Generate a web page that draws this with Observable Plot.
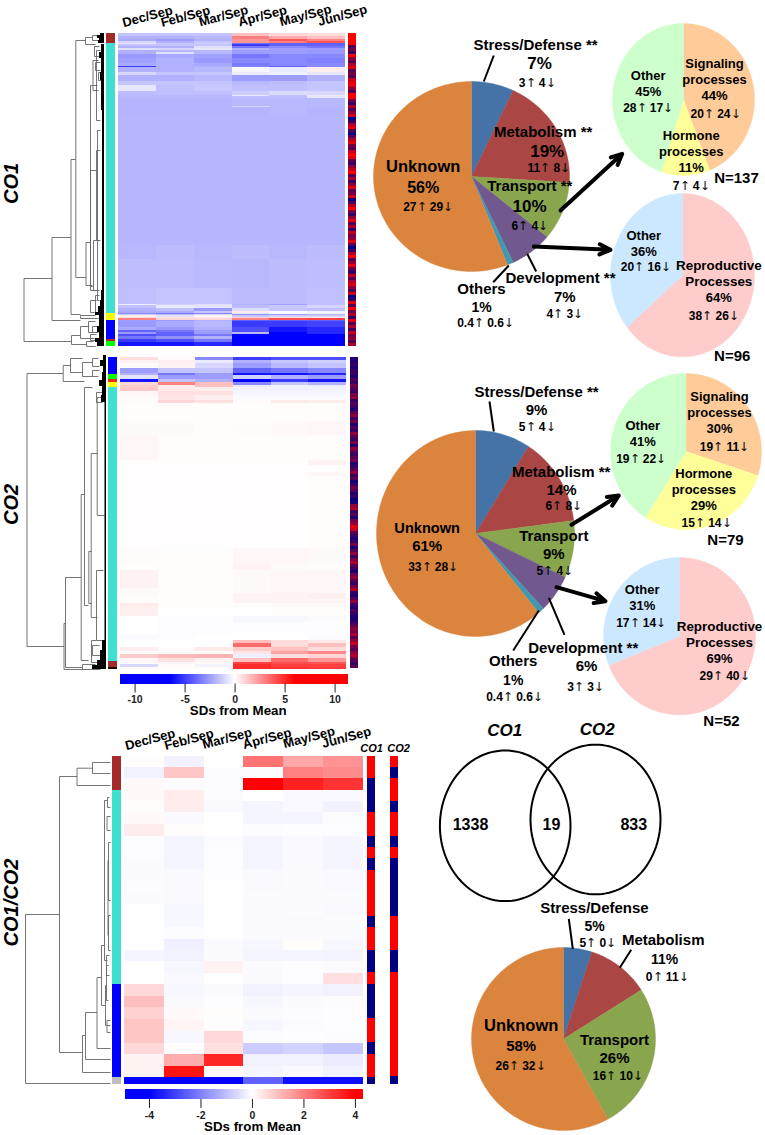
<!DOCTYPE html>
<html><head><meta charset="utf-8">
<script src="https://cdn.jsdelivr.net/npm/d3@7"></script>
<script src="https://cdn.jsdelivr.net/npm/@observablehq/plot@0.6"></script>
<style>
@font-face{font-family:Arr;font-weight:bold;src:local("DejaVu Sans"),local("DejaVuSans");unicode-range:U+2191,U+2193}
html,body{margin:0;padding:0;background:#fff}
#stage{position:relative;width:765px;height:1135px;overflow:hidden;font-family:Arr,"Liberation Sans",Arial,sans-serif}
#stage svg{position:absolute;overflow:visible;background:transparent}
#stage svg.soft{filter:blur(.55px)}
</style></head><body><div id="stage"></div>
<script>
// ---------- values ----------
const months = ["Dec/Sep","Feb/Sep","Mar/Sep","Apr/Sep","May/Sep","Jun/Sep"];

// row size, then SDs from mean for the six months
const co1Rows = [
[3,-1.5,-1.5,-1.5,1.5,1,.8],[3,-2,-2,-1.8,3,2,1.5],[2,-2.2,-2.5,-2,2.5,4,3],[2,-1,-2,-1.5,2.5,3,4],
[2,-.8,-1.5,-1.2,-3.5,-4,-4],[2,-1.5,-1.5,-1.5,-5,-4,-4],[2,-2,-2,-.8,-3.5,-3,-3.5],[2,-.8,-1,-.6,-2,-2.5,-2.5],
[2,-2,-1.8,-1.8,-2.5,-2.5,-2.6],[2,-2,-.8,-1.8,-2.5,-2.5,-2.6],[4,-2.6,-2.2,-2.4,-3.5,-3,-3],[5,-2.4,-2,-2.6,-3,-3,-3.2],[4,-2.2,-2,-2.2,-3.4,-3,-3],
[1,-5,-2,-2,-3,-4,-3],[5,-2,-2,-1.8,-.2,-.5,.4],[3,-1,-1.5,-1.5,-.5,-.4,-.6],[6,-2,-2,-1.8,-2.5,-2.5,-2],
[5,-1.5,-1.5,-1.5,-1.8,-1.7,-1.5],[6,-.6,-1.6,-1.4,-1.6,-1.6,-1.5],[4,-1.7,-1.6,-1.6,-1.3,-.9,-1],[1.5,-1.8,-1.8,-1.8,-.6,-1.6,-.5],[1.5,-1.8,-1.8,-1.8,-1.7,-1.7,-.7],
[9,-1.9,-1.9,-1.9,-1.8,-1.8,-1.8],[1,-1.9,-1.9,-1.9,-1,-1.8,-1.8],[9,-1.9,-1.9,-1.9,-1.9,-1.8,-1.9],[135,-1.85,-1.85,-1.85,-1.85,-1.85,-1.85],
[15,-1.8,-1.7,-1.8,-1.7,-1.8,-1.7],[30,-1.65,-1.65,-1.75,-1.8,-1.7,-1.65],[17,-1.6,-1.5,-1.5,-1.7,-1.7,-1.6],
[1.5,-.4,-1.2,-.8,-2,-2.4,-1.6],[2.5,-1.6,-.5,-.7,-1.7,-1.4,-1.1],[3,-2,-1.6,-2.6,-.9,-1.5,-1.6],[2,-2.2,-2.2,-1.5,.5,-.1,-.4],
[1,-3,-3.5,-3,-.6,-.2,-.3],[2,-1.3,-1.6,-1,-2.8,-2.5,-2],[2,.4,-.8,.3,-1.5,-1.2,-1.2],[1,.8,.6,.4,1,.7,.5],
[2,3,1,1,3,4.2,4.5],[1,-2.5,-2.5,-2,-4,-4,-4],[6,-2.6,-2.2,-1.8,-5,-5,-4.8],[3,-2.2,-2.6,-2,-4.5,-6,-5.5],[2,-4,-3.5,-2.5,-4.5,-6,-5.5],
[2,-2.6,-4,-2.5,-1.8,-6.5,-5.5],[3,-4.5,-4,-3.5,-6.5,-7,-6.5],[3,-3.5,-2.8,-2,-7,-7,-7],[3,-5,-4.5,-3.5,-7,-7,-7],[4,-6,-6,-5.5,-7,-7,-7]];

const co2Rows = [
[3,.8,.1,-3,-5,-4.5,-4.5],[3,.3,.4,-.5,-2,-1.5,-1.2],[5,.1,.3,-1,-2.5,-1.8,-1.5],[5,-2.5,-1.5,-1.5,-4,-3.5,-3],[2,-2,-3.5,-2.5,-6,-6,-5.5],
[4,-.7,-2.5,-2.5,-1.2,-2,-2.5],[3,-6,-1.5,-2,-7,-5,-6],[3,1,3,1.5,-3,-1.5,-2],[2,1.2,.4,1.5,-.5,-.3,-.4],[4,1.3,.5,.4,-.3,-.4,-.3],
[4,.2,.7,.7,-.2,-.2,-.2],[5,.1,.6,.4,-.1,-.1,-.1],[3,.1,1,.7,.1,.5,.4],[20,.06,.06,.06,.06,.06,.06],[13,.12,.12,.06,.1,.15,.2],[25,.18,.06,.06,.06,.06,.06],
[5,.06,.06,.06,.06,.06,.3],[7,.04,.04,.04,.04,.04,.04],[4,.04,.04,.04,.04,.04,.2],[73,.05,.05,.05,.05,.05,.07],[15,.1,.07,.07,.2,.2,.12],[7,.07,.07,.07,.3,.12,.1],
[18,.3,.06,.06,.12,.18,.18],[5,.12,.06,.06,.12,.18,.18],[5,.12,.06,.06,.25,.25,.35],[5,.06,.06,.06,.25,.3,.25],[4,.45,.06,.06,.06,.12,.12],[9,.35,0,0,.03,.06,.06],
[7,0,-.06,-.06,-.2,-.2,-.12],[12,0,-.06,-.06,-.06,-.06,-.06],[6,-.12,-.06,0,-.03,-.03,-.12],
[3,0,0,0,1.5,.8,.5],[4,0,0,0,3.5,.8,1.5],[4,.4,.1,.5,1.2,1.5,.8],[3,.1,.1,.1,.6,2.2,2.8],[4,1.2,1.6,1.8,-.4,.8,1],[4,.2,.7,.3,1.5,3.5,2.5],[2,.1,.2,.1,4.5,4.2,4],[3,-1,.1,-.3,5,4.5,4.5],[2,.1,.1,.1,5,4.8,4.6]];

const bothRows = [
[34,.05,-.2,0,2.2,1.4,1.7],[33,-.2,.9,-.05,-.05,2,1.8],[34,.1,-.05,-.05,4.2,3.5,3.2],[34,.1,.3,-.05,0,-.1,-.1],[34,.05,.3,-.1,-.15,-.1,-.2],
[34,.1,-.1,.02,-.15,-.15,-.05],[36,.3,.05,.02,-.05,-.03,-.03],[34,-.03,-.15,-.08,-.15,-.1,-.15],[34,-.03,-.15,-.03,-.15,-.1,-.15],[35,-.08,-.15,-.03,-.15,-.1,-.15],
[35,-.06,-.1,-.03,-.1,-.08,-.1],[33,-.04,-.1,-.02,-.1,-.06,-.1],[35,-.06,-.1,-.02,-.08,-.06,-.08],[35,-.02,-.12,-.02,-.08,-.06,-.1],[34,-.02,-.12,-.02,-.08,-.1,-.08],
[34,.02,-.05,-.02,-.06,-.06,-.06],[34,.02,-.25,-.08,-.12,.05,-.12],[34,-.15,-.2,-.08,-.15,-.15,-.18],[34,-.02,-.12,.2,-.08,-.03,-.08],[34,.02,-.1,.02,-.08,-.03,.5],
[35,.6,-.12,-.06,-.2,-.15,-.2],[35,1,-.1,-.03,-.12,-.06,-.05],[34,.7,.1,.05,-.06,-.04,-.03],[36,.9,.15,.03,-.12,-.08,-.03],[36,.9,-.12,.6,-.05,-.03,-.05],
[34,.6,.03,.5,-.8,-.7,-.9],[35,.2,1.3,3.4,-.2,-.2,-.3],[34,.2,3.7,.1,-.15,-.1,-.2],[22,-4.8,-4.4,-4.8,-2.5,-3.8,-3.8]];

// cluster side bars: [size, colour]
const co1Clusters = [[10.5,"#A52A2A"],[269.5,"#40E0D0"],[7,"#FFFF00"],[19,"#0000FF"],[2,"#A52A2A"],[5,"#00FF00"]];
const co2Clusters = [[17,"#0000FF"],[5,"#00FF00"],[3,"#E03010"],[5,"#FFFF00"],[274,"#40E0D0"],[6,"#A52A2A"],[2,"#200000"]];
const bothClusters = [[101,"#A52A2A"],[583,"#40E0D0"],[279,"#0000FF"],[22,"#BEBEBE"]];

// share of up-regulated genes per strip bin (0 navy ... 9 red)
const co1Strip = [9,9,9,9,3,4,2,9,5,3,6,8,3,4,3,7,8,8,5,3,9,9,4,2,6,3,5,7,0,2,6,8,3,0,3,6,8,4,3,7,9,8,3,2,5,7,9,3,6,2,5,8,3,4,7,0,3,6,9,4,2,5,8,3,6,2,7,4,5,8,3,0,2,6,9,3,5,8,4,2,7,3,6,8,5,3,7,0,2,8,3,9,4,6,2,8,3,6,2,7,4,5,3,6];
const co2Strip = [1,1,2,1,2,2,1,3,2,4,3,2,4,5,2,3,2,1,3,5,2,4,1,3,2,5,3,2,4,1,5,3,2,3,4,1,2,3,5,2,3,1,2,4,3,1,2,0,1,5,6,2,3,1,4,5,8,7,3,2,1,2,4,1,3,5,2,4,6,3,2,1,4,5,3,2,4,6,2,1,3,5,2,1,3,2,1,1,2,3,5,4,6,3,5,7,4,3,5,6,4,3,2,3];
const bothStripCO1 = [9,9,0,0,0,9,9,0,9,0,9,9,9,9,0,9,9,0,0,9,0,0,0,9,9,0,9,9,0];
const bothStripCO2 = [9,0,9,9,0,9,9,0,9,0,0,0,0,0,9,9,9,0,0,9,9,9,9,9,9,9,9,9,0];

// pie shares
const pieColors = {Stress:"#4572A7",Metabolism:"#AA4643",Transport:"#89A54E",Development:"#71588F",Others:"#4198AF",Unknown:"#DB843D",
  Signaling:"#FFCC99",Hormone:"#FFFF99",OtherG:"#CCFFCC",Reproductive:"#FFCCCC",OtherB:"#CCE8FF"};
const co1Pie = [["Stress",7],["Metabolism",19],["Transport",10],["Development",7],["Others",1],["Unknown",56]];
const co2Pie = [["Stress",9],["Metabolism",14],["Transport",9],["Development",6],["Others",1],["Unknown",61]];
const bothPie = [["Stress",5],["Metabolism",11],["Transport",26],["Unknown",58]];
const co1TransportPie = [["Signaling",44],["Hormone",11],["OtherG",45]];
const co1DevPie = [["Reproductive",64],["OtherB",36]];
const co2TransportPie = [["Signaling",30],["Hormone",29],["OtherG",41]];
const co2DevPie = [["Reproductive",69],["OtherB",31]];

// dendrograms: merge height, top leaf, bottom leaf, top child height, bottom child height
const co1Tree = [[23.5,278,341,51.5,71],[51.5,237,320,70.5,80],[70.5,159,314,75.3,80],[75.3,40,277,85,85.5],[85,37,44,92,95],[85.5,242,285,90,92],[90,170,286,96,92],
[71,335,344,80,86],[80,326,338,88,94],[88,321,332,95,96],[86,341,346,93,95],[80,315,318,95,98],[90,85,290,97,97],[96,50,120,100,100],[97,130,300,100,99],[92.5,60,90,98,98],[93,240,290,99,99],[96,150,240,100,100],[95,295,312,99,96],[90,300,312,96,94],
[92,35,40,97,98],[94,46,56,99,99],[95,62,70,100,100],[98,72,80,101,101],[92,326,332,97,98],[90,334,340,96,97]];
const co2Tree = [[26.5,373,646,62.7,63.5],[62.7,365,381,70,84],[70,358,372,82,82],[82,362,376,92,92],[63.5,623,669,65,83],[65,577,667,80.7,82],[80.7,494,660,84,88],[84,387,605,92,88],[88.3,551,603,91,91],[90.7,453,617,97,97],[96.7,397,515,104,104],[96,570,640,103,103],[91,640,662,96,97],[82,664,669,95,100],
[92,358,366,98,99],[92,370,376,99,98],[96,392,402,102,102],[92,645,655,99,100]];
const bothTree = [[25,914,1083,59,110],[59,776,1052,76.5,82],[76.5,767.7,785,92,110],[92,762,773,110,110],[82,1035,1072,85,110],[85,1012,1059,96.5,110],[96.5,977,1048,101,110],[101,945,1005,104,105],
[104,800,960,107,107],[107,797,807,109,110],[106.5,816,830,110,110],[108,842,900,110,110],[107.5,860,935,108,108],[108,915,950,110,110],[105,985,1025,106,110],[106,965,1000,108,108],[106.5,1020,1032,110,110],[106,955,975,109,109]];
// thick leaf clutter at the right of each tree: top, bottom, height
const co1Leaves = [[33,35,100],[35,38,97],[38,40,99],[40,43,98],[44,52,101],[52,58,99],[58,72,101],[72,80,100],[80,110,101],[110,290,102],[290,300,101],[300,306,100],[306,312,98],[312,315,95],[315,320,99],[320,326,99],[326,332,97],[332,338,99],[338,342,95],[342,346,97]];
const co2Leaves = [[355,360,103],[360,366,100],[366,372,103],[372,380,102],[380,386,99],[386,395,102],[395,402,101],[402,640,104.5],[640,650,102],[650,660,100],[660,665,97],[665,669,92]];

// colour-bar ticks
const barTicksWide = [-10,-5,0,5,10];
const barTicksNarrow = [-4,-2,0,2,4];

// ---------- helpers ----------
const stage = document.getElementById("stage");
const FONT = 'Arr,"Liberation Sans",Arial,sans-serif';
function place(node,left,top,cls){node.style.left=left+"px";node.style.top=top+"px";if(cls)node.classList.add(cls);stage.appendChild(node);}
function frame(w,h,xd,yd,extra={}){
  return {width:w,height:h,margin:0,
    x:{domain:xd,range:[0,w],axis:null},y:{domain:yd,range:[0,h],axis:null},style:{background:"transparent",fontFamily:FONT},...extra};
}
const wideColor = {type:"linear",domain:[-11.46,-6.5,0,6,11.34],range:["#0000ff","#0000ff","#ffffff","#ff0000","#ff0000"]};
const narrowColor = {type:"linear",domain:[-4.93,-4,0,4,4.3],range:["#0000ff","#0000ff","#ffffff","#ff0000","#ff0000"]};

function heat(l,t,w,h,rows,color,cls){
  const cells=[];let y=0;
  for(const r of rows){months.forEach((m,i)=>cells.push({i,y1:y,y2:y+r[0],v:r[i+1]}));y+=r[0];}
  place(Plot.plot(frame(w,h,[0,6],[0,y],{color,marks:[
    Plot.rect(cells,{x1:"i",x2:d=>d.i+1,y1:"y1",y2:"y2",fill:"v",shapeRendering:"crispEdges"})]})),l,t,cls);
}
function clusters(l,t,w,h,list){
  const c=[];let y=0;for(const [s,k] of list){c.push({y1:y,y2:y+s,k});y+=s;}
  place(Plot.plot(frame(w,h,[0,1],[0,y],{color:{type:"identity"},marks:[
    Plot.rect(c,{x1:0,x2:1,y1:"y1",y2:"y2",fill:"k",shapeRendering:"crispEdges"})]})),l,t);
}
function strip(l,t,w,h,vals,sizes,cls){
  const c=[];let y=0;vals.forEach((v,i)=>{const s=sizes?sizes[i]:1;c.push({y1:y,y2:y+s,v});y+=s;});
  place(Plot.plot(frame(w,h,[0,1],[0,y],{color:{type:"linear",domain:[0,9],range:["#000080","#ff0000"]},marks:[
    Plot.rect(c,{x1:0,x2:1,y1:"y1",y2:"y2",fill:"v",shapeRendering:"crispEdges"})]})),l,t,cls);
}
function tree(l,t,w,h,yd,merges,leaves,color){
  const segs=[];
  for(const [m,a,b,ha,hb] of merges){
    segs.push([m,a,m,b],[m,a,ha,a],[m,b,hb,b]);
  }
  place(Plot.plot(frame(w,h,[0,w],yd,{marks:[
    Plot.link(segs,{x1:d=>d[0],y1:d=>d[1],x2:d=>d[2],y2:d=>d[3],stroke:color,strokeWidth:.9,curve:"linear"}),
    Plot.rect(leaves,{x1:d=>d[2],x2:w,y1:d=>d[0],y2:d=>d[1],fill:"#000"})]})),l,t);
}
function colorBar(l,t,w,barH,domain,color,ticks){
  const n=228,step=(domain[1]-domain[0])/n;
  const bins=d3.range(n).map(i=>({a:domain[0]+i*step,b:domain[0]+(i+1)*step}));
  place(Plot.plot({width:w,height:barH+26,margin:0,marginBottom:26,
    x:{domain,range:[0,w],axis:null},y:{domain:[0,1],axis:null},color,style:{background:"transparent",fontFamily:FONT},
    marks:[
      Plot.rect(bins,{x1:"a",x2:"b",y1:0,y2:1,fill:d=>(d.a+d.b)/2,shapeRendering:"crispEdges"}),
      Plot.axisX({ticks,tickSize:9,tickPadding:3,tickFormat:d=>d,fontSize:10.5,fontWeight:"bold",stroke:"#222",fill:"#222",strokeWidth:1,anchor:"bottom"})
    ]}),l,t);
}
function pie(cx,cy,rx,ry,data){
  const arcs=d3.pie().sort(null).value(d=>d[1])(data);
  const pts=[];
  for(const a of arcs){
    pts.push({k:a.data[0],x:0,y:0});
    const steps=Math.max(2,Math.ceil((a.endAngle-a.startAngle)*40));
    for(let i=0;i<=steps;i++){const t=a.startAngle+(a.endAngle-a.startAngle)*i/steps;
      pts.push({k:a.data[0],x:Math.sin(t),y:-Math.cos(t)});}
    pts.push({k:a.data[0],x:0,y:0});
  }
  place(Plot.plot({width:2*rx,height:2*ry,margin:0,x:{domain:[-1,1],range:[0,2*rx],axis:null},y:{domain:[-1,1],range:[0,2*ry],axis:null},
    color:{type:"ordinal",domain:Object.keys(pieColors),range:Object.values(pieColors)},style:{background:"transparent"},
    marks:[Plot.line(pts,{x:"x",y:"y",z:"k",fill:"k",stroke:"k",strokeWidth:.4,curve:"linear"})]}),cx-rx,cy-ry);
}

// ---------- panels ----------
tree(0,0,104,350,[0,350],co1Tree,co1Leaves,"#666");
clusters(106.3,33,8.7,313,co1Clusters);
heat(118,33,227,313,co1Rows,wideColor,"soft");
strip(348.3,33,8.4,313,co1Strip,null,"soft");

tree(0,350,106,322,[350,672],co2Tree,co2Leaves,"#666");
clusters(108.3,357,9,312,co2Clusters);
heat(120,357,226,312,co2Rows,wideColor,"soft");
strip(350,357,7.7,312,co2Strip,null,"soft");
colorBar(119.7,674,228,9.5,[-11.46,11.34],wideColor,barTicksWide);

tree(0,750,110,340,[750,1090],bothTree,[],"#666");
clusters(112,756,8.7,328.3,bothClusters);
heat(124,756,238.7,328.3,bothRows,narrowColor);
const bothSizes = bothRows.map(r=>r[0]);
strip(366.5,756,8.4,328.3,bothStripCO1,bothSizes);
strip(389.5,756,7.7,328.3,bothStripCO2,bothSizes);
colorBar(125,1089.3,237.7,10,[-4.93,4.3],narrowColor,barTicksNarrow);

pie(471,176,98,95,co1Pie);
pie(683.3,99,71,76,co1TransportPie);
pie(681.7,275,72,81.7,co1DevPie);
pie(475,532.5,99,103,co2Pie);
pie(685,451,75.5,78,co2TransportPie);
pie(679,635.7,76,78.7,co2DevPie);
pie(563.3,1038.5,92,91.5,bothPie);

// ---------- annotations ----------
const L=15,M=13,S=12;
const labels=[
// CO1 main
["Stress/Defense **",535,44.3,L],["7%",539,63.3,17],["3↑ 4↓",536.7,82.7,S],
["Metabolism **",542.7,131.7,L],["19%",546.7,151,17],["11↑ 8↓",548.3,167.7,S],
["Transport **",529.3,186,L],["10%",529,205.7,17],["6↑ 4↓",529.3,225.3,S],
["Development **",560,277.7,L],["7%",564.3,296.7,15],["4↑ 3↓",564.3,313.3,S],
["Others",481,288.7,L],["1%",481,306.7,14],["0.4↑ 0.6↓",485,322.3,S],
["Unknown",422.7,166,16.5],["56%",422.7,187,16],["27↑ 29↓",427.7,206.7,S],
["Signaling",714,63.3,M],["processes",714,79.3,M],["44%",714,95,M],["20↑ 24↓",715,113.3,S],
["Other",647.7,75.3,M],["45%",647.7,91,M],["28↑ 17↓",647.7,107.7,S],
["Hormone",690.7,135,M],["processes",690.7,151.3,M],["11%",690.7,167.3,M],["7↑ 4↓",690.7,185.7,S],
["N=137",736,177.3,L],
["Other",643.3,235,M],["36%",643.3,251,M],["20↑ 16↓",645.3,266.7,S],
["Reproductive",718.3,265.7,13.4],["Processes",718.3,281.7,13.4],["64%",718.3,297.7,M],["38↑ 26↓",713.3,316,S],
["N=96",731.7,355.7,L],
// CO2 main
["Stress/Defense **",536,391.7,L],["9%",536,410,15],["5↑ 4↓",536.7,426.7,S],
["Metabolism **",560.7,471.7,L],["14%",561,490,15],["6↑ 8↓",563.3,506,S],
["Transport",553.3,535.7,L],["9%",553.3,554,15],["5↑ 4↓",554.3,571,S],
["Development **",582.7,647.3,L],["6%",586,666,15],["3↑ 3↓",585,686.7,S],
["Others",512.7,661,L],["1%",512.7,680,14],["0.4↑ 0.6↓",514,696.7,S],
["Unknown",426.7,527.7,14.6],["61%",426.7,546,15],["33↑ 28↓",432.7,566.7,S],
["Signaling",719,396.7,M],["processes",719,412.3,M],["30%",719,428.3,M],["19↑ 11↓",724,446.7,S],
["Other",642.3,425,M],["41%",642.3,441,M],["19↑ 22↓",640.7,458.3,S],
["Hormone",703.3,473.3,M],["processes",703.3,489.3,M],["29%",703.3,505,M],["15↑ 14↓",706,522.7,S],
["N=79",725,540,L],
["Other",641.7,589.3,M],["31%",641.7,605.7,M],["17↑ 14↓",640.7,622.3,S],
["Reproductive",719,626,13.4],["Processes",719,642.3,13.4],["69%",719,658.7,M],["29↑ 40↓",724,676,S],
["N=52",721,720.7,L],
// bottom right
["1338",470,824.3,16],["19",551,824.3,16],["833",633.3,824.3,16],
["Stress/Defense",594,907.3,L],["5%",594,926,14],["5↑ 0↓",597.3,942.3,S],
["Metabolism",662.7,940,L],["11%",664,958.7,14],["0↑ 11↓",666.7,976.7,S],
["Unknown",520.7,1025.7,16.5],["58%",520.7,1045.7,15],["26↑ 32↓",520,1066,S],
["Transport",614,1040,L],["26%",614,1057.7,15],["16↑ 10↓",617.3,1076,S],
// colour-bar titles
["SDs from Mean",237.7,710.7,13.3],["SDs from Mean",252,1126.7,13.3]
];
const italics=[["CO1",504.3,730,17],["CO2",596.7,729,17],["CO1",371,748,11],["CO2",398,748,11]];
const sideTitles=[["CO1",11,183],["CO2",11,504],["CO1/CO2",11,902]];
const monthX1=[147,185,223,262,305,342], monthY1=[16,16,15.5,15.5,15,15];
const monthX2=[149.6,188.5,226.7,266.6,308.5,346], monthY2=[739,739,738,738,737,737];
const monthLabels=[...months.map((m,i)=>[m,monthX1[i],monthY1[i]]),...months.map((m,i)=>[m,monthX2[i],monthY2[i]])];
const leaders=[[493.3,55,483.3,81],[526.7,253.3,535.7,271],[508.3,265,492.7,281.7],
 [489,401,493.3,431],[548.3,597.3,564,634.3],[538.3,610,512.7,650],
 [568.3,918.3,572.3,948.3],[630.7,949.3,619.3,967.3]];
const arrows=[[560,210,621.7,153.3],[533.3,246,610,249.3],[571,524.3,618.3,495],[556,586.7,605,600.7]];
const venn=[{k:"a",cx:504.7,rx:65.3,cy:825.3,ry:75.3},{k:"b",cx:595,rx:65,cy:819,ry:74.8}];
const vennPts=venn.flatMap(v=>d3.range(0,361,3).map(a=>({k:v.k,x:v.cx+v.rx*Math.cos(a*Math.PI/180),y:v.cy+v.ry*Math.sin(a*Math.PI/180)})));

const textOpts={x:d=>d[1],y:d=>d[2],text:d=>d[0],fontWeight:"bold",fill:"#000",textAnchor:"middle",lineAnchor:"middle"};
place(Plot.plot(frame(765,1135,[0,765],[0,1135],{marks:[
  Plot.line(vennPts,{x:"x",y:"y",z:"k",stroke:"#000",strokeWidth:2,curve:"linear"}),
  Plot.link(leaders,{x1:d=>d[0],y1:d=>d[1],x2:d=>d[2],y2:d=>d[3],stroke:"#000",strokeWidth:2,curve:"linear"}),
  Plot.arrow(arrows,{x1:d=>d[0],y1:d=>d[1],x2:d=>d[2],y2:d=>d[3],stroke:"#000",strokeWidth:4,headLength:4.5,headAngle:50}),
  ...d3.groups(labels,d=>d[3]).map(([size,rows])=>Plot.text(rows,{...textOpts,fontSize:size})),
  ...d3.groups(italics,d=>d[3]).map(([size,rows])=>Plot.text(rows,{...textOpts,fontSize:size,fontStyle:"italic"})),
  Plot.text(sideTitles,{...textOpts,fontSize:20,fontStyle:"italic",rotate:-90}),
  Plot.text(monthLabels,{...textOpts,fontSize:13,rotate:-15})
]})),0,0);
</script></body></html>
